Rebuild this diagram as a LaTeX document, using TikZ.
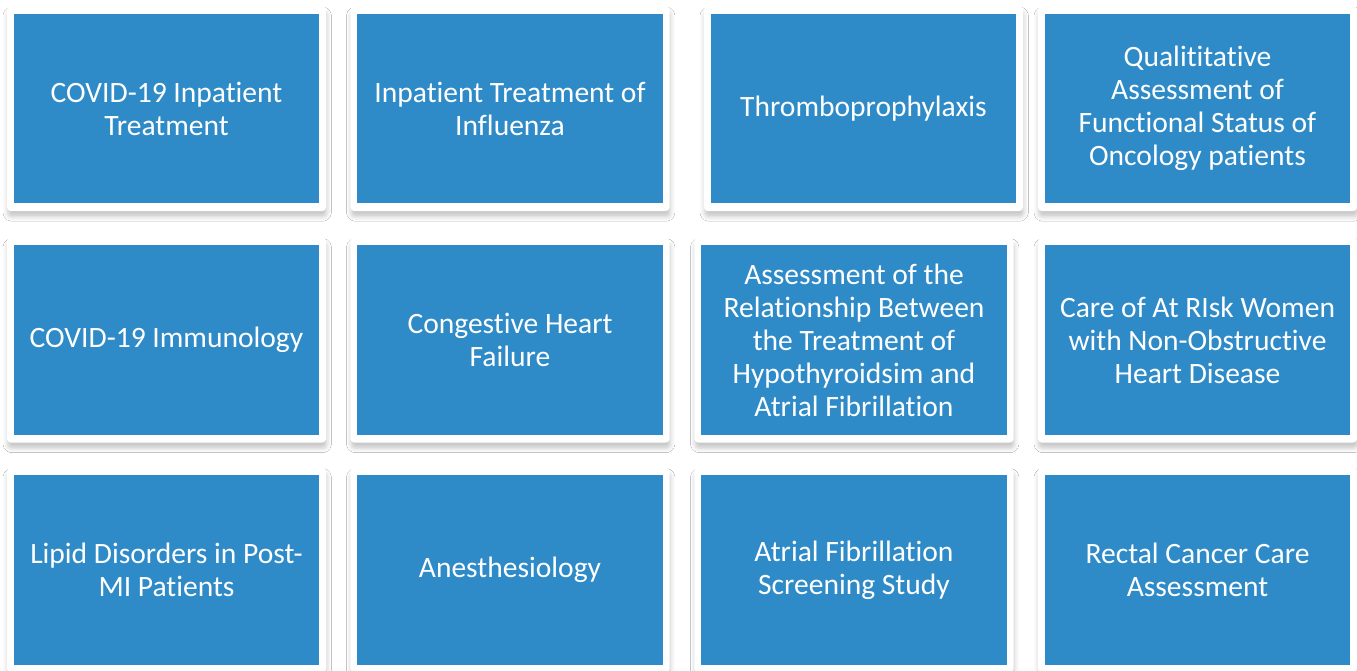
\documentclass[tikz,border=0pt]{standalone}
\usepackage{fontspec}
\setmainfont{Carlito}[Ligatures=NoCommon]
\usepackage{tikz, xcolor}
\usetikzlibrary{shadows.blur, positioning}
\definecolor{card_blue}{RGB}{46,139,200}

\tikzset{
    frame/.style={fill=white, rounded corners=0.04cm, minimum width=3.19cm, minimum height=2.05cm,
        blur shadow={shadow xshift=0.2pt, shadow yshift=-1.6pt, shadow blur radius=1.3pt, shadow opacity=22}},
    card/.style={fill=card_blue, text=white, minimum width=3.05cm, minimum height=1.89cm,
        align=center, inner sep=0pt, font=\fontsize{8.4}{9.4}\selectfont}
}

\begin{document}
\begin{tikzpicture}[x=0.01cm, y=-0.01cm]
    \useasboundingbox[fill=white] (0,0) rectangle (1357,671);

    % first row
    \node[frame] (f1) at (166.5,108.5) {};
    \node[frame] (f2) at (510,108.5) {};
    \node[frame] (f3) at (863.5,108.5) {};
    \node[frame] (f4) at (1197.5,108.5) {};
    \node[card] (covid) at (f1) {COVID-19 Inpatient\\Treatment};
    \node[card] (flu) at (f2) {Inpatient Treatment of\\Influenza};
    \node[card] (thrombo) at (f3) {Thromboprophylaxis};
    \node[card] (onco) at (f4) {Qualititative\\Assessment of\\Functional Status of\\Oncology patients};

    % second row
    \node[frame] (f5) at (166.5,340) {};
    \node[frame] (f6) at (510,340) {};
    \node[frame] (f7) at (854,340) {};
    \node[frame] (f8) at (1197.5,340) {};
    \node[card] (immuno) at (f5) {COVID-19 Immunology};
    \node[card] (chf) at (f6) {Congestive Heart\\Failure};
    \node[card] (hypo) at (f7) {Assessment of the\\Relationship Between\\the Treatment of\\Hypothyroidsim and\\Atrial Fibrillation};
    \node[card] (women) at (f8) {Care of At RIsk Women\\with Non-Obstructive\\Heart Disease};

    % third row
    \node[frame] (f9) at (166.5,570) {};
    \node[frame] (f10) at (510,570) {};
    \node[frame] (f11) at (854,570) {};
    \node[frame] (f12) at (1197.5,570) {};
    \node[card] (lipid) at (f9) {Lipid Disorders in Post-\\MI Patients};
    \node[card] (anest) at (f10) {Anesthesiology};
    \node[card] (afib) at (f11) {Atrial Fibrillation\\Screening Study};
    \node[card] (rectal) at (f12) {Rectal Cancer Care\\Assessment};

\end{tikzpicture}
\end{document}
